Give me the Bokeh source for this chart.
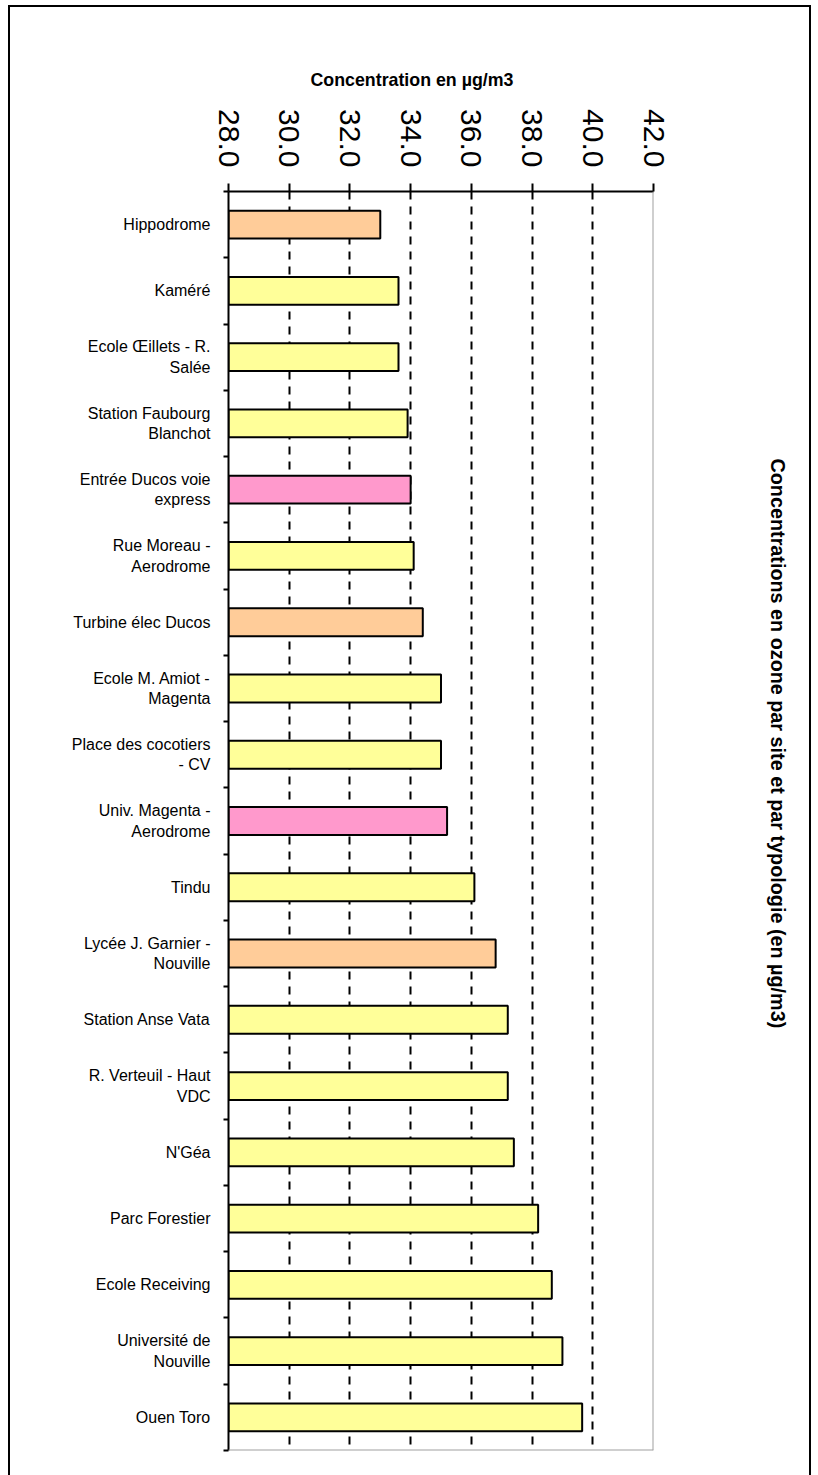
import math

from bokeh.embed import file_html
from bokeh.models import (ColumnDataSource, FixedTicker, NumeralTickFormatter,
                          Range1d, Span, Title)
from bokeh.plotting import figure
from bokeh.resources import INLINE

# Measurement sites (top to bottom) and their mean ozone concentration (µg/m3)
sites = [
    "Hippodrome",
    "Kaméré",
    "Ecole Œillets - R.\nSalée",
    "Station Faubourg\nBlanchot",
    "Entrée Ducos voie\nexpress",
    "Rue Moreau -\nAerodrome",
    "Turbine élec Ducos",
    "Ecole M. Amiot -\nMagenta",
    "Place des cocotiers\n- CV",
    "Univ. Magenta -\nAerodrome",
    "Tindu",
    "Lycée J. Garnier -\nNouville",
    "Station Anse Vata",
    "R. Verteuil - Haut\nVDC",
    "N'Géa",
    "Parc Forestier",
    "Ecole Receiving",
    "Université de\nNouville",
    "Ouen Toro",
]
ozone = [33.0, 33.6, 33.6, 33.9, 34.0, 34.1, 34.4, 35.0, 35.0, 35.2,
         36.1, 36.8, 37.2, 37.2, 37.4, 38.2, 38.65, 39.0, 39.65]
# Site typology group (0, 1 or 2) for each site
typology = [1, 0, 0, 0, 2, 0, 1, 0, 0, 2, 0, 1, 0, 0, 0, 0, 0, 0, 0]
typology_colors = ["#FFFF99", "#FFCC99", "#FF99CC"]
x_ticks = [28.0, 30.0, 32.0, 34.0, 36.0, 38.0, 40.0, 42.0]

FONT = "Liberation Sans"
n = len(sites)
centers = [i + 0.5 for i in range(n)]

source = ColumnDataSource(dict(
    y=centers,
    value=ozone,
    color=[typology_colors[t] for t in typology],
))

p = figure(
    width=803, height=1470,
    x_range=Range1d(x_ticks[0], x_ticks[-1]),
    y_range=Range1d(n, 0),
    x_axis_location="above",
    output_backend="svg",
    toolbar_location=None,
    min_border_left=218, min_border_right=160,
    min_border_top=184, min_border_bottom=27,
)
p.margin = (5, 0, 0, 8)
p.styles = {
    "border-left": "2px solid black",
    "border-top": "2px solid black",
    "border-right": "2px solid black",
}
p.background_fill_color = "white"
p.border_fill_color = "white"
p.outline_line_color = None

p.hbar(y="y", left=x_ticks[0], right="value", height=0.42, source=source,
       fill_color="color", line_color="black", line_width=2)

# Concentration axis on top
xa = p.xaxis[0]
xa.ticker = FixedTicker(ticks=x_ticks)
xa.formatter = NumeralTickFormatter(format="0.0")
xa.major_label_orientation = -math.pi / 2
xa.major_label_text_font = FONT
xa.major_label_text_font_size = "30px"
xa.major_label_text_color = "black"
xa.major_label_standoff = 16
xa.major_tick_out = 8
xa.major_tick_in = 0
xa.minor_tick_line_color = None
xa.axis_line_width = 2
xa.major_tick_line_width = 2
xa.axis_line_color = "black"
xa.major_tick_line_color = "black"

# Site axis on the left: labels at band centres, ticks at band boundaries
ya = p.yaxis[0]
ya.ticker = FixedTicker(ticks=centers, minor_ticks=list(range(n + 1)))
ya.major_label_overrides = {c: s for c, s in zip(centers, sites)}
ya.major_label_text_font = FONT
ya.major_label_text_font_size = "16px"
ya.major_label_text_color = "black"
ya.major_label_standoff = 13
ya.major_tick_out = 0
ya.major_tick_in = 0
ya.minor_tick_out = 5
ya.minor_tick_in = 0
ya.minor_tick_line_width = 2
ya.minor_tick_line_color = "black"
ya.axis_line_width = 2
ya.axis_line_color = "black"

# Dashed vertical grid
p.xgrid.ticker = FixedTicker(ticks=x_ticks[1:-1])
p.xgrid.grid_line_color = "black"
p.xgrid.grid_line_dash = "8 7"
p.xgrid.grid_line_width = 2
p.ygrid.visible = False

# Grey right and bottom edges of the plot area
p.add_layout(Span(location=x_ticks[-1], dimension="height",
                  line_color="#a0a0a0", line_width=2))
p.add_layout(Span(location=n, dimension="width",
                  line_color="#a0a0a0", line_width=2))

# Axis title above the tick labels
p.add_layout(Title(
    text="Concentration en µg/m3", align="left", offset=82, standoff=34,
    text_font=FONT, text_font_style="bold", text_font_size="17.8px",
    text_color="black",
), "above")

# Empty gap between the plot area and the vertical chart title
p.add_layout(Title(text=" ", standoff=105, text_font_size="1px"), "right")

# Chart title, written vertically on the right
p.add_layout(Title(
    text="Concentrations en ozone par site et par typologie (en µg/m3)",
    align="left", offset=267, standoff=10,
    text_font=FONT, text_font_style="bold", text_font_size="19.8px",
    text_color="black",
), "right")

open("out.html", "w", encoding="utf-8").write(file_html(p, INLINE))
